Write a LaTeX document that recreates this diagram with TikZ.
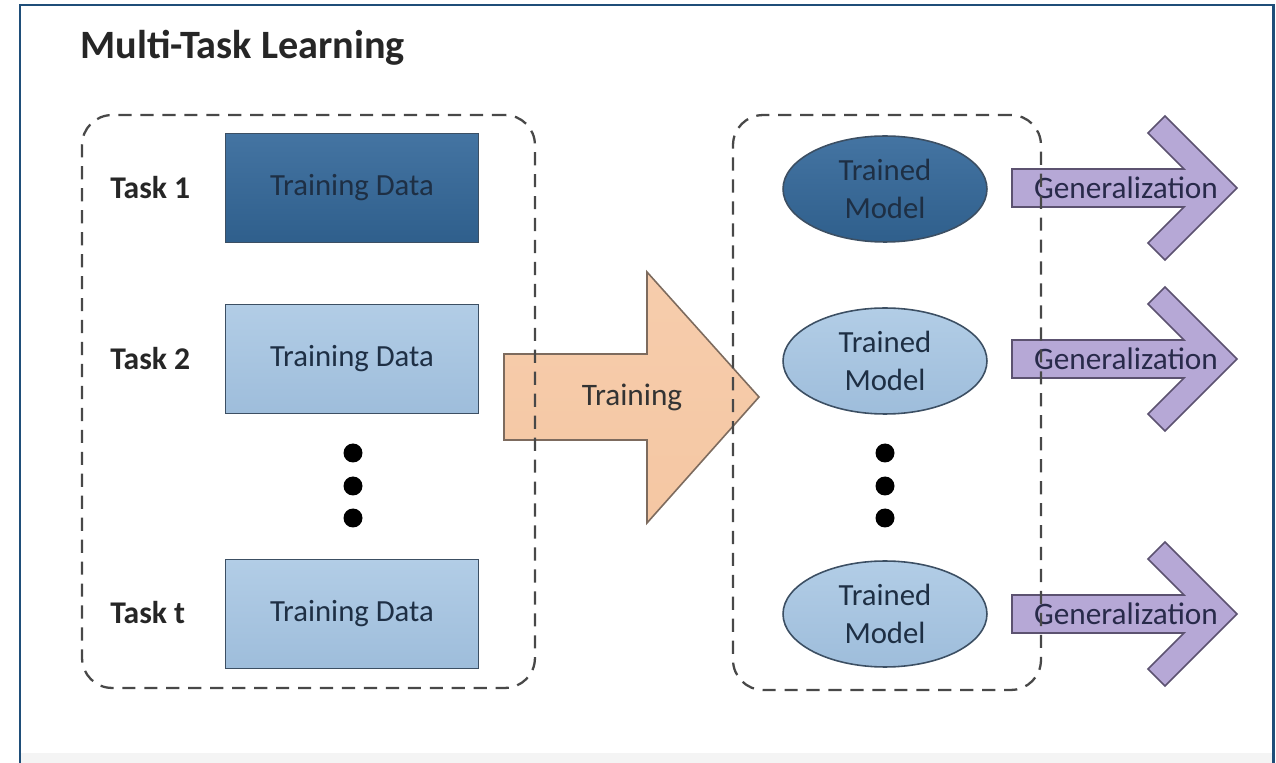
\documentclass[tikz,border=0pt]{standalone}
\usepackage{fontspec}
\setmainfont{Carlito}
\usetikzlibrary{shapes.geometric}

\definecolor{framecol}{HTML}{1F4E79}
\definecolor{bandcol}{HTML}{F4F4F4}
\definecolor{darkTop}{HTML}{4474A2}
\definecolor{darkBot}{HTML}{2F5F8C}
\definecolor{lightTop}{HTML}{B2CDE6}
\definecolor{lightBot}{HTML}{9EBDDB}
\definecolor{boxline}{HTML}{3C4F63}
\definecolor{txtdark}{HTML}{1E2F44}
\definecolor{peach}{HTML}{F5C7A3}
\definecolor{peachline}{HTML}{7D6B5E}
\definecolor{lilac}{HTML}{B6A8D6}
\definecolor{lilacline}{HTML}{5C5270}
\definecolor{dashcol}{HTML}{484848}

\tikzset{
	databox/.style={shape=rectangle, draw=boxline, line width=0.9pt, align=center, minimum width=5.06cm, minimum height=2.18cm, inner sep=0pt, text=txtdark, font=\fontsize{17.5}{21}\selectfont},
	modelnode/.style={shape=ellipse, draw=boxline, line width=0.9pt, align=center, minimum width=4.08cm, minimum height=2.12cm, inner sep=0pt, text=txtdark, font=\fontsize{17.5}{22}\selectfont},
	darkfill/.style={top color=darkTop, bottom color=darkBot},
	lightfill/.style={top color=lightTop, bottom color=lightBot},
	tasklabel/.style={anchor=west, inner sep=0pt, text=black!85, font=\bfseries\fontsize{18}{21}\selectfont},
	groupbox/.style={shape=rectangle, rounded corners=0.6cm, draw=dashcol, line width=1.3pt, dash pattern=on 7.5pt off 5pt, inner sep=0pt},
	dotnode/.style={shape=circle, fill=black, minimum size=0.38cm, inner sep=0pt},
	trainshape/.style={draw=peachline, line width=0.9pt, top color=peach!90!white, bottom color=peach},
	genshape/.style={draw=lilacline, line width=0.9pt, fill=lilac},
	arrowtext/.style={inner sep=0pt, font=\fontsize{17.8}{21}\selectfont}
}

\begin{document}
\begin{tikzpicture}[x=0.02cm, y=-0.02cm]
	\useasboundingbox (0,0) rectangle (1276,763);

	% outer frame
	\fill[bandcol] (21,753) rectangle (1272,763);
	\draw[framecol, line width=1.7pt] (20,763) -- (20,5) -- (1273,5) -- (1273,763);

	\node (title)[anchor=west, inner sep=0pt, text=black!85, font=\bfseries\fontsize{22.9}{27}\selectfont] 
	at (80,48){Multi-Task Learning};

	% tasks
	\node (t1)[tasklabel] at (110,188){Task 1};
	\node (t2)[tasklabel] at (110,359){Task 2};
	\node (tt)[tasklabel] at (110,613){Task t};

	\node (d1)[databox, darkfill] at (352,188){Training Data};
	\node (d2)[databox, lightfill] at (352,359){Training Data};
	\node (dt)[databox, lightfill] at (352,614){Training Data};

	\foreach \y/\n in {453/a, 486/b, 518/c}{
		\node (ld\n)[dotnode] at (353,\y){};
		\node (rd\n)[dotnode] at (885,\y){};
	}

	% training arrow
	\draw[trainshape] (504,354) -- (647,354) -- (647,272) -- (759,397) -- (647,523) -- (647,440) -- (504,440) -- cycle;
	\node (train)[arrowtext, text=black!80] at (632,397){Training};

	% models
	\node (m1)[modelnode, darkfill] at (885,189){Trained \\ Model};
	\node (m2)[modelnode, lightfill] at (885,361){Trained \\ Model};
	\node (mt)[modelnode, lightfill] at (885,614){Trained \\ Model};

	% generalization arrows
	\foreach \y/\n in {188/1, 359/2, 614/t}{
		\draw[genshape] (1012,\y-19) -- (1184,\y-19) -- (1148,\y-55) -- (1165,\y-72) -- (1237,\y) -- (1165,\y+72) -- (1148,\y+55) -- (1184,\y+19) -- (1012,\y+19) -- cycle;
		\node (g\n)[arrowtext, text=txtdark!90!violet] at (1126,\y){Generalization};
	}

	% dashed groups
	\node (lgroup)[groupbox, minimum width=9.06cm, minimum height=11.46cm] at (308.5,401.5){};
	\node (rgroup)[groupbox, minimum width=6.16cm, minimum height=11.5cm] at (887,402.5){};
\end{tikzpicture}
\end{document}
